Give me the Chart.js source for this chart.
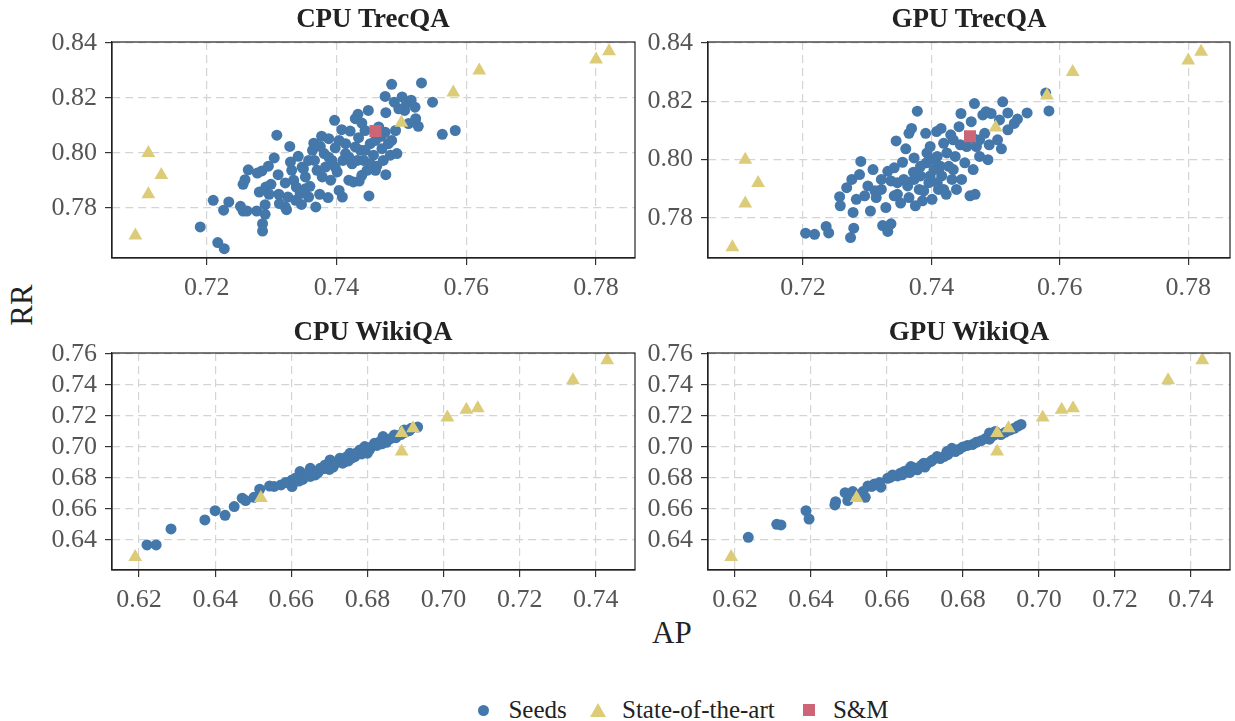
<!DOCTYPE html>
<html>
<head>
<meta charset="utf-8">
<script src="https://cdn.jsdelivr.net/npm/chart.js@4.4.1/dist/chart.umd.min.js"></script>
<style>
  body { margin: 0; background: #fff; }
  #fig { position: relative; width: 1235px; height: 721px; font-family: "Liberation Serif", "DejaVu Serif", serif; }
  #fig canvas { position: absolute; }
  .ttl { position: absolute; font-weight: bold; font-size: 27px; color: #222; text-align: center; width: 400px; line-height: 30px; }
  .lbl { position: absolute; font-size: 31px; color: #222; line-height: 34px; }
  #legend { position: absolute; top: 694px; left: 66px; width: 1235px; text-align: center; font-size: 25px; color: #222; }
  #legend span { display: inline-block; vertical-align: middle; }
  .mk-c { width: 11px; height: 11px; border-radius: 50%; background: #4477AA; margin: 0 19px 0 0; }
  .mk-t { width: 0; height: 0; border-left: 8px solid transparent; border-right: 8px solid transparent; border-bottom: 14px solid #DDCC77; margin: 0 16px 0 17px; }
  .mk-s { width: 12px; height: 12px; background: #CC6677; margin: 0 18px 0 22px; }
</style>
</head>
<body>
<div id="fig">
  <canvas id="cpuTrec"></canvas>
  <canvas id="gpuTrec"></canvas>
  <canvas id="cpuWiki"></canvas>
  <canvas id="gpuWiki"></canvas>
  <div class="ttl" style="left:173px;top:3px">CPU TrecQA</div>
  <div class="ttl" style="left:769px;top:3px">GPU TrecQA</div>
  <div class="ttl" style="left:173px;top:316px">CPU WikiQA</div>
  <div class="ttl" style="left:769px;top:316px">GPU WikiQA</div>
  <div class="lbl" style="left:1px;top:288px;transform:rotate(-90deg);transform-origin:center">RR</div>
  <div class="lbl" style="left:652px;top:616px">AP</div>
  <div id="legend">
    <span class="mk-c"></span><span>Seeds</span>
    <span class="mk-t"></span><span>State-of-the-art</span>
    <span class="mk-s"></span><span>S&amp;M</span>
  </div>
</div>
<script>
// ---- data (AP, RR) ----
const trecSota = [[0.709,0.770],[0.711,0.800],[0.711,0.785],[0.713,0.792],[0.750,0.811],[0.758,0.822],[0.762,0.830],[0.780,0.834],[0.782,0.837]];
const trecSM = [[0.746,0.808]];
const wikiSota = [[0.619,0.629],[0.652,0.667],[0.689,0.697],[0.689,0.709],[0.692,0.712],[0.701,0.719],[0.706,0.724],[0.709,0.725],[0.734,0.743],[0.743,0.756]];

const cpuTrecSeeds = [
  [0.7190,0.7731],[0.7217,0.7674],[0.7227,0.7652],[0.7210,0.7828],[0.7226,0.7792],[0.7234,0.7822],[0.7252,0.7806],[0.7256,0.7789],
  [0.7262,0.7789],[0.7256,0.7886],[0.7259,0.7903],[0.7264,0.7939],[0.7278,0.7927],[0.7285,0.7935],[0.7295,0.7952],[0.7304,0.7982],
  [0.7308,0.8065],[0.7277,0.7789],[0.7290,0.7812],[0.7290,0.7777],[0.7286,0.7743],[0.7286,0.7716],[0.7281,0.7858],[0.7291,0.7876],
  [0.7299,0.7886],[0.7296,0.7850],[0.7310,0.7921],[0.7311,0.7850],[0.7321,0.7891],[0.7323,0.7794],[0.7321,0.7804],[0.7325,0.7840],
  [0.7328,0.8024],[0.7329,0.7967],[0.7331,0.7937],[0.7334,0.7901],[0.7338,0.7876],[0.7341,0.7988],[0.7346,0.7813],[0.7344,0.7852],
  [0.7347,0.7949],[0.7352,0.7913],[0.7357,0.7840],[0.7359,0.7879],[0.7363,0.8010],[0.7365,0.8036],[0.7366,0.7973],[0.7370,0.7937],
  [0.7374,0.7850],[0.7377,0.8061],[0.7378,0.7913],[0.7381,0.7998],[0.7383,0.7949],[0.7387,0.7838],[0.7388,0.8052],[0.7391,0.7901],
  [0.7393,0.7973],[0.7397,0.8119],[0.7398,0.8019],[0.7401,0.7931],[0.7404,0.7864],[0.7408,0.8085],[0.7409,0.7840],[0.7410,0.7973],
  [0.7414,0.8034],[0.7419,0.7901],[0.7421,0.8080],[0.7424,0.7961],[0.7426,0.7895],[0.7429,0.8125],[0.7433,0.8141],[0.7434,0.8056],
  [0.7435,0.7898],[0.7437,0.8010],[0.7439,0.8109],[0.7442,0.7973],[0.7444,0.8082],[0.7447,0.7937],[0.7449,0.8155],[0.7450,0.7844],
  [0.7452,0.8034],[0.7457,0.7992],[0.7462,0.7952],[0.7465,0.8095],[0.7469,0.8061],[0.7470,0.8016],[0.7472,0.7973],[0.7475,0.8206],
  [0.7476,0.8147],[0.7476,0.7921],[0.7480,0.8034],[0.7483,0.7992],[0.7485,0.8250],[0.7489,0.8185],[0.7491,0.8082],[0.7493,0.7998],
  [0.7501,0.8204],[0.7505,0.8155],[0.7508,0.8182],[0.7511,0.8107],[0.7515,0.8192],[0.7521,0.8167],[0.7522,0.8125],[0.7526,0.8097],
  [0.7531,0.8255],[0.7548,0.8185],[0.7563,0.8068],[0.7583,0.8082],[0.7414,0.7998],[0.7429,0.8022],[0.7444,0.8010],[0.7460,0.8046],
  [0.7432,0.7973],[0.7404,0.8046],[0.7419,0.7985],[0.7452,0.7961],[0.7388,0.7985],[0.7398,0.7949],[0.7375,0.8024],[0.7357,0.7973],
  [0.7349,0.7943],[0.7439,0.7919],[0.7460,0.7937],[0.7475,0.8076],[0.7485,0.8046],[0.7496,0.8161],[0.7337,0.7828],[0.7312,0.7816],
  [0.7352,0.7870],[0.7368,0.7804]
];

const gpuTrecSeeds = [
  [0.7204,0.7748],[0.7218,0.7744],[0.7236,0.7771],[0.7240,0.7749],[0.7274,0.7733],[0.7279,0.7765],[0.7324,0.7774],[0.7332,0.7754],
  [0.7337,0.7780],[0.7257,0.7873],[0.7258,0.7842],[0.7268,0.7904],[0.7276,0.7932],[0.7278,0.7819],[0.7283,0.7864],[0.7288,0.7949],
  [0.7290,0.7994],[0.7301,0.7910],[0.7305,0.7824],[0.7309,0.7966],[0.7314,0.7870],[0.7322,0.7898],[0.7329,0.7836],[0.7332,0.7960],
  [0.7337,0.7927],[0.7342,0.7972],[0.7345,0.8064],[0.7347,0.7881],[0.7352,0.7851],[0.7355,0.7991],[0.7360,0.8037],[0.7363,0.7910],
  [0.7365,0.8090],[0.7369,0.8107],[0.7372,0.7957],[0.7373,0.8006],[0.7375,0.7842],[0.7378,0.8166],[0.7381,0.7898],[0.7383,0.7944],
  [0.7386,0.7859],[0.7391,0.8090],[0.7392,0.7989],[0.7396,0.7921],[0.7398,0.8045],[0.7401,0.7864],[0.7404,0.7966],[0.7408,0.8096],
  [0.7409,0.8011],[0.7411,0.7898],[0.7415,0.8107],[0.7416,0.7944],[0.7419,0.8056],[0.7423,0.7881],[0.7427,0.7977],[0.7430,0.8085],
  [0.7432,0.7932],[0.7437,0.8011],[0.7439,0.7898],[0.7443,0.8113],[0.7445,0.8051],[0.7446,0.8158],[0.7447,0.7932],[0.7452,0.7989],
  [0.7460,0.7876],[0.7462,0.8130],[0.7465,0.7966],[0.7468,0.7881],[0.7467,0.8192],[0.7470,0.8045],[0.7475,0.8011],[0.7480,0.8153],
  [0.7483,0.8090],[0.7485,0.8164],[0.7488,0.8000],[0.7490,0.8051],[0.7493,0.8158],[0.7503,0.8068],[0.7506,0.8136],[0.7509,0.8037],
  [0.7511,0.8198],[0.7519,0.8160],[0.7519,0.8102],[0.7529,0.8124],[0.7534,0.8139],[0.7549,0.8160],[0.7578,0.8228],[0.7583,0.8167],
  [0.7393,0.8023],[0.7404,0.8000],[0.7414,0.7977],[0.7424,0.8023],[0.7383,0.7977],[0.7398,0.7944],[0.7409,0.7921],[0.7373,0.7932],
  [0.7357,0.7932],[0.7347,0.7921],[0.7322,0.7932],[0.7312,0.7893],[0.7342,0.7876],[0.7388,0.7893],[0.7434,0.7966],[0.7455,0.8045],
  [0.7465,0.8073],[0.7475,0.8068],[0.7434,0.8068],[0.7419,0.7898],[0.7296,0.7876],[0.7365,0.7870]
];

const cpuWikiSeeds = [
  [0.6221,0.6368],[0.6245,0.6368],[0.6284,0.6471],[0.6373,0.6529],[0.6400,0.6589],[0.6426,0.6559],[0.6450,0.6615],[0.6471,0.6669],
  [0.6480,0.6654],[0.6502,0.6675],[0.6517,0.6727],[0.6543,0.6748],[0.6573,0.6755],[0.6602,0.6744],[0.6602,0.6787],[0.6623,0.6841],
  [0.6637,0.6813],[0.6650,0.6862],[0.6663,0.6819],[0.6676,0.6862],[0.6689,0.6884],[0.6702,0.6916],[0.6715,0.6895],[0.6728,0.6927],
  [0.6741,0.6905],[0.6754,0.6959],[0.6767,0.6938],[0.6780,0.6981],[0.6793,0.7002],[0.6806,0.6985],[0.6819,0.7024],[0.6833,0.7034],
  [0.6841,0.7067],[0.6854,0.7045],[0.6871,0.7077],[0.6897,0.7110],[0.6915,0.7120],[0.6932,0.7128],[0.6555,0.6745],[0.6585,0.6770],
  [0.6612,0.6800],[0.6630,0.6790],[0.6645,0.6830],[0.6660,0.6840],[0.6670,0.6835],[0.6685,0.6860],[0.6695,0.6880],[0.6710,0.6870],
  [0.6720,0.6900],[0.6735,0.6895],[0.6745,0.6935],[0.6760,0.6930],[0.6770,0.6960],[0.6785,0.6955],[0.6800,0.6975],[0.6810,0.7000],
  [0.6825,0.7010],[0.6838,0.7020],[0.6850,0.7030],[0.6862,0.7055],[0.6875,0.7060],[0.6888,0.7080],[0.6900,0.7095],[0.6910,0.7105],
  [0.6650,0.6810],[0.6700,0.6855],[0.6750,0.6910],[0.6800,0.6960],[0.6620,0.6780]
];

const gpuWikiSeeds = [
  [0.6235,0.6417],[0.6310,0.6501],[0.6321,0.6497],[0.6387,0.6589],[0.6395,0.6535],[0.6463,0.6626],[0.6465,0.6647],[0.6490,0.6705],
  [0.6497,0.6654],[0.6510,0.6712],[0.6537,0.6712],[0.6543,0.6675],[0.6550,0.6748],[0.6567,0.6761],[0.6584,0.6740],[0.6602,0.6798],
  [0.6615,0.6819],[0.6628,0.6813],[0.6645,0.6841],[0.6663,0.6873],[0.6680,0.6852],[0.6697,0.6895],[0.6715,0.6905],[0.6732,0.6938],
  [0.6750,0.6938],[0.6758,0.6970],[0.6771,0.6991],[0.6790,0.6985],[0.6800,0.7000],[0.6812,0.7010],[0.6825,0.7015],[0.6835,0.7030],
  [0.6848,0.7040],[0.6860,0.7055],[0.6870,0.7050],[0.6880,0.7075],[0.6890,0.7085],[0.6900,0.7080],[0.6912,0.7095],[0.6925,0.7110],
  [0.6935,0.7120],[0.6945,0.7135],[0.6953,0.7145],[0.6885,0.7100],[0.6870,0.7090],[0.6610,0.6805],[0.6635,0.6830],[0.6655,0.6850],
  [0.6670,0.6865],[0.6690,0.6880],[0.6705,0.6890],[0.6720,0.6915],[0.6740,0.6925],[0.6760,0.6950],[0.6780,0.6970],[0.6700,0.6870],
  [0.6660,0.6835],[0.6580,0.6770],[0.6560,0.6745],[0.6640,0.6820]
];

const trecXTicks = [0.72, 0.74, 0.76, 0.78];
const trecYTicks = [0.78, 0.80, 0.82, 0.84];
const wikiXTicks = [0.62, 0.64, 0.66, 0.68, 0.70, 0.72, 0.74];
const wikiYTicks = [0.64, 0.66, 0.68, 0.70, 0.72, 0.74, 0.76];

const BLUE = "#4477AA", SAND = "#DDCC77", ROSE = "#CC6677";
const FONT = "'Liberation Serif', 'DejaVu Serif', serif";
const PAD_TOP = 30, PAD_RIGHT = 40, Y_W = 72, X_H = 44;

const boxPlugin = {
  id: "box",
  afterDraw(chart) {
    const a = chart.chartArea, ctx = chart.ctx;
    ctx.save();
    ctx.strokeStyle = "#222";
    ctx.lineWidth = 1.2;
    ctx.strokeRect(a.left, a.top, a.right - a.left, a.bottom - a.top);
    ctx.restore();
  }
};

function pts(arr) { return arr.map(p => ({ x: p[0], y: p[1] })); }

function axis(min, max, ticks, isX) {
  return {
    type: "linear",
    min: min, max: max,
    afterBuildTicks: s => { s.ticks = ticks.map(v => ({ value: v })); },
    afterFit: s => { if (isX) s.height = X_H; else s.width = Y_W; },
    grid: { color: "#d4d4d4", lineWidth: 1.2, drawTicks: true, tickLength: 7, tickColor: "#333", tickWidth: 1.2 },
    border: { display: true, color: "#222", width: 1.2, dash: [8, 5] },
    ticks: { color: "#555", font: { family: FONT, size: 26 }, padding: isX ? 8 : 8, maxRotation: 0, callback: v => v.toFixed(2) }
  };
}

// box: left, top, width, height of the plotting area in page pixels
function panel(id, box, seeds, sota, sm, xr, yr, xt, yt) {
  const cv = document.getElementById(id);
  cv.width = box[2] + Y_W + PAD_RIGHT;
  cv.height = box[3] + PAD_TOP + X_H;
  cv.style.left = (box[0] - Y_W) + "px";
  cv.style.top = (box[1] - PAD_TOP) + "px";
  const datasets = [
    { label: "Seeds", data: pts(seeds), backgroundColor: BLUE, borderColor: BLUE, pointStyle: "circle", pointRadius: 5.5, borderWidth: 0, order: 3 },
    { label: "State-of-the-art", data: pts(sota), backgroundColor: SAND, borderColor: SAND, pointStyle: "triangle", pointRadius: 8, borderWidth: 0, order: 2 }
  ];
  if (sm) datasets.push({ label: "S&M", data: pts(sm), backgroundColor: ROSE, borderColor: ROSE, pointStyle: "rect", pointRadius: 8.5, borderWidth: 0, order: 1 });
  new Chart(cv, {
    type: "scatter",
    data: { datasets: datasets },
    options: {
      responsive: false, animation: false, events: [],
      layout: { padding: { top: PAD_TOP, right: PAD_RIGHT, left: 0, bottom: 0 } },
      plugins: { legend: { display: false }, tooltip: { enabled: false } },
      scales: { x: axis(xr[0], xr[1], xt, true), y: axis(yr[0], yr[1], yt, false) }
    },
    plugins: [boxPlugin]
  });
}

panel("cpuTrec", [112, 42, 523, 216], cpuTrecSeeds, trecSota, trecSM, [0.7054, 0.7860], [0.7618, 0.8404], trecXTicks, trecYTicks);
panel("gpuTrec", [708, 42, 522, 216], gpuTrecSeeds, trecSota, trecSM, [0.7052, 0.7865], [0.7663, 0.8403], trecXTicks, trecYTicks);
panel("cpuWiki", [112, 353, 523, 217], cpuWikiSeeds, wikiSota, null, [0.6129, 0.7503], [0.6206, 0.7606], wikiXTicks, wikiYTicks);
panel("gpuWiki", [708, 353, 522, 217], gpuWikiSeeds, wikiSota, null, [0.6129, 0.7503], [0.6206, 0.7606], wikiXTicks, wikiYTicks);
</script>
</body>
</html>
